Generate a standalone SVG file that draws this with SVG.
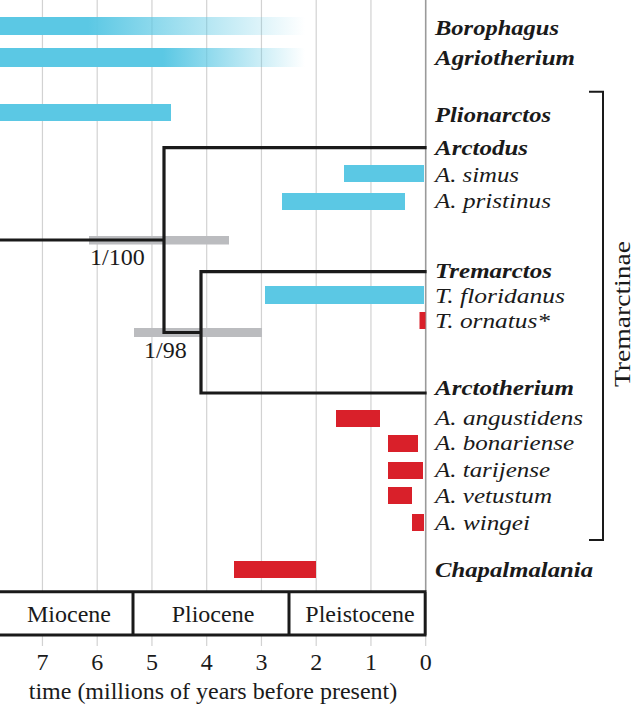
<svg xmlns="http://www.w3.org/2000/svg" width="636" height="706" viewBox="0 0 636 706">
<style>
.grid{stroke:#d2d2d2;stroke-width:1.2;fill:none}
.axis0{stroke:#9a9a9a;stroke-width:1.6;fill:none}
.cy{fill:#5bc8e4}
.rd{fill:#d9202a}
.gy{fill:#bbbcbf}
.tree{stroke:#1a1a1a;stroke-width:3.2;fill:none;stroke-linecap:square}
.box{stroke:#1a1a1a;stroke-width:3;fill:none}
.br{stroke:#1a1a1a;stroke-width:2;fill:none}
.g{font-family:"Liberation Serif","Times New Roman",serif;font-size:20px;font-weight:bold;font-style:italic;fill:#1a1a1a}
.s{font-family:"Liberation Serif","Times New Roman",serif;font-size:20px;font-style:italic;fill:#1a1a1a}
.t{font-family:"Liberation Serif","Times New Roman",serif;font-size:24px;fill:#1a1a1a}
</style>
<defs>
<linearGradient id="fadeA" gradientUnits="userSpaceOnUse" x1="88" y1="0" x2="305" y2="0">
<stop offset="0" stop-color="#5bc8e4" stop-opacity="1"/>
<stop offset="1" stop-color="#5bc8e4" stop-opacity="0"/>
</linearGradient>
<linearGradient id="fadeB" gradientUnits="userSpaceOnUse" x1="163" y1="0" x2="305" y2="0">
<stop offset="0" stop-color="#5bc8e4" stop-opacity="1"/>
<stop offset="1" stop-color="#5bc8e4" stop-opacity="0"/>
</linearGradient>
</defs>
<rect width="636" height="706" fill="#ffffff"/>
<g id="grid">
<path class="grid" d="M42.45 0V591M97.2 0V591M151.95 0V591M206.7 0V591M261.45 0V591M316.2 0V591M370.95 0V591"/>
<path class="grid" d="M42.45 635V646M97.2 635V646M151.95 635V646M206.7 635V646M261.45 635V646M316.2 635V646M370.95 635V646M425.7 635V646"/>
<path class="axis0" d="M425.7 0V591"/>
</g>
<g id="borophagus">
<rect class="cy" x="0" y="17" width="88" height="18"/>
<rect x="88" y="17" width="217" height="18" fill="url(#fadeA)"/>
<text class="g" x="435" y="35" textLength="124" lengthAdjust="spacingAndGlyphs">Borophagus</text>
</g>
<g id="agriotherium">
<rect class="cy" x="0" y="48" width="163" height="19"/>
<rect x="163" y="48" width="142" height="19" fill="url(#fadeB)"/>
<text class="g" x="435" y="65" textLength="140" lengthAdjust="spacingAndGlyphs">Agriotherium</text>
</g>
<g id="plionarctos">
<rect class="cy" x="0" y="104" width="171" height="17"/>
<text class="g" x="435" y="121.7" textLength="116" lengthAdjust="spacingAndGlyphs">Plionarctos</text>
</g>
<g id="node-1-100">
<rect class="gy" x="89" y="236" width="140" height="8.5"/>
<text class="t" x="90" y="265">1/100</text>
</g>
<g id="node-1-98">
<rect class="gy" x="134" y="328" width="128" height="9"/>
<text class="t" x="144" y="358">1/98</text>
</g>
<g id="connectors">
<path class="tree" d="M0 240H164M164 147.7V332.5M164 147.7H425M164 332.5H201M201 271.7V393M201 271.7H425M201 393H425"/>
</g>
<g id="arctodus">
<text class="g" x="435" y="155" textLength="93" lengthAdjust="spacingAndGlyphs">Arctodus</text>
</g>
<g id="a-simus">
<rect class="cy" x="344" y="165" width="80" height="17"/>
<text class="s" x="435" y="181.7" textLength="84" lengthAdjust="spacingAndGlyphs">A. simus</text>
</g>
<g id="a-pristinus">
<rect class="cy" x="282" y="193" width="123" height="17"/>
<text class="s" x="435" y="208" textLength="116" lengthAdjust="spacingAndGlyphs">A. pristinus</text>
</g>
<g id="tremarctos">
<text class="g" x="435" y="278" textLength="117" lengthAdjust="spacingAndGlyphs">Tremarctos</text>
</g>
<g id="t-floridanus">
<rect class="cy" x="265" y="286" width="159" height="18"/>
<text class="s" x="435" y="303" textLength="130" lengthAdjust="spacingAndGlyphs">T. floridanus</text>
</g>
<g id="t-ornatus">
<rect class="rd" x="419.5" y="312" width="6" height="17"/>
<text class="s" x="435" y="328" textLength="115" lengthAdjust="spacingAndGlyphs">T. ornatus*</text>
</g>
<g id="arctotherium">
<text class="g" x="435" y="395" textLength="139" lengthAdjust="spacingAndGlyphs">Arctotherium</text>
</g>
<g id="a-angustidens">
<rect class="rd" x="336" y="410" width="44" height="17"/>
<text class="s" x="435" y="425" textLength="148" lengthAdjust="spacingAndGlyphs">A. angustidens</text>
</g>
<g id="a-bonariense">
<rect class="rd" x="388" y="435" width="30" height="17"/>
<text class="s" x="435" y="450" textLength="139" lengthAdjust="spacingAndGlyphs">A. bonariense</text>
</g>
<g id="a-tarijense">
<rect class="rd" x="388" y="462" width="35" height="17"/>
<text class="s" x="435" y="477" textLength="115" lengthAdjust="spacingAndGlyphs">A. tarijense</text>
</g>
<g id="a-vetustum">
<rect class="rd" x="388" y="487" width="24" height="17"/>
<text class="s" x="435" y="503" textLength="117" lengthAdjust="spacingAndGlyphs">A. vetustum</text>
</g>
<g id="a-wingei">
<rect class="rd" x="412" y="514" width="12" height="17"/>
<text class="s" x="435" y="530" textLength="95" lengthAdjust="spacingAndGlyphs">A. wingei</text>
</g>
<g id="chapalmalania">
<rect class="rd" x="234" y="561" width="82" height="17"/>
<text class="g" x="435" y="577" textLength="158" lengthAdjust="spacingAndGlyphs">Chapalmalania</text>
</g>
<g id="tremarctinae">
<path class="br" d="M589 91.7H603V540H589"/>
<text class="t" transform="translate(630 314) rotate(-90)" text-anchor="middle" font-size="22" textLength="146" lengthAdjust="spacingAndGlyphs">Tremarctinae</text>
</g>
<g id="epochs">
<path class="box" d="M0 591.7H426.5M0 635H426.5M133 591.7V635M289 591.7V635M425.2 591.7V635"/>
<text class="t" x="69" y="621.7" text-anchor="middle">Miocene</text>
<text class="t" x="213" y="621.7" text-anchor="middle">Pliocene</text>
<text class="t" x="360" y="621.7" text-anchor="middle">Pleistocene</text>
</g>
<g id="axis">
<text class="t" x="42.45" y="670" text-anchor="middle">7</text>
<text class="t" x="97.2" y="670" text-anchor="middle">6</text>
<text class="t" x="151.95" y="670" text-anchor="middle">5</text>
<text class="t" x="206.7" y="670" text-anchor="middle">4</text>
<text class="t" x="261.45" y="670" text-anchor="middle">3</text>
<text class="t" x="316.2" y="670" text-anchor="middle">2</text>
<text class="t" x="370.95" y="670" text-anchor="middle">1</text>
<text class="t" x="425.7" y="670" text-anchor="middle">0</text>
<text class="t" x="213" y="699" text-anchor="middle" font-size="24.7">time (millions of years before present)</text>
</g>
</svg>
